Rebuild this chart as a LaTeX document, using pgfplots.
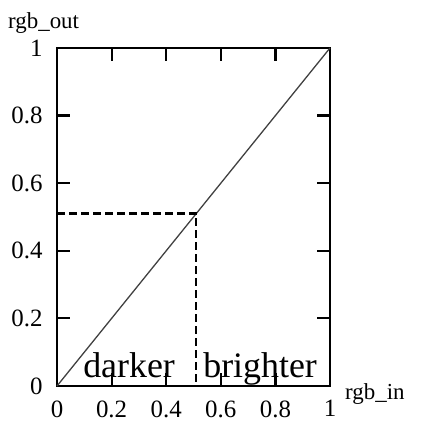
\documentclass[border=0pt]{standalone}
\usepackage{fontspec}
\setmainfont{Liberation Serif}
\usepackage{pgfplots}
\pgfplotsset{compat=1.18}
\begin{document}
\begin{tikzpicture}
\begin{axis}[
  scale only axis,
  width=273bp, height=338bp,
  xmin=0, xmax=1, ymin=0, ymax=1,
  xtick={0,0.2,0.4,0.6,0.8,1},
  ytick={0,0.2,0.4,0.6,0.8,1},
  xticklabels={0,0.2,0.4,0.6,0.8,1},
  yticklabels={0,0.2,0.4,0.6,0.8,1},
  /pgf/number format/assume math mode=true,
  tick align=inside,
  major tick length=13bp,
  tick style={line width=2.2bp, black},
  axis line style={line width=2.8bp},
  tick label style={font=\fontsize{25}{28}\selectfont},
  xticklabel style={yshift=-11bp},
  yticklabel style={xshift=-11bp},
  clip=false,
]
\addplot[black!75, line width=1.3bp] coordinates {(0,0) (1,1)};
\addplot[black, line width=2.4bp, dash pattern=on 8bp off 4bp] coordinates {(0,0.51) (0.51,0.51) (0.51,0)};
\node[anchor=base, font=\fontsize{36}{40}\selectfont, inner sep=0pt] at (axis cs:0.264,0.024) {darker};
\node[anchor=base, font=\fontsize{36}{40}\selectfont, inner sep=0pt] at (axis cs:0.744,0.024) {brighter};
\end{axis}
\node[anchor=base west, font=\fontsize{23}{26}\selectfont, inner sep=0pt] at (-49bp,357bp) {rgb\_out};
\node[anchor=base west, font=\fontsize{23}{26}\selectfont, inner sep=0pt] at (288bp,-13bp) {rgb\_in};
\pgfresetboundingbox
\path[use as bounding box] (-57bp,-43bp) rectangle (367bp,386bp);
\end{tikzpicture}
\end{document}
